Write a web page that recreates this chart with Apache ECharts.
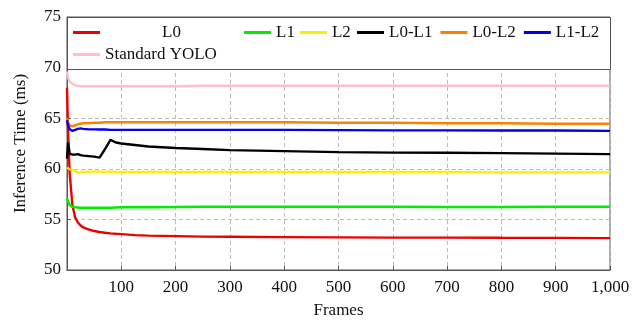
<!DOCTYPE html>
<html>
<head>
<meta charset="utf-8">
<script src="https://cdn.jsdelivr.net/npm/echarts@6/dist/echarts.min.js"></script>
<style>
  html, body { margin: 0; padding: 0; background: #fff; }
  #chart { width: 633px; height: 324px; }
</style>
</head>
<body>
<div id="chart"></div>
<script>
// frames sampled along the x axis
const frames = [0, 2, 5, 10, 15, 20, 25, 30, 40, 50, 60, 70, 80, 90, 100, 125, 150, 200, 250, 300, 400, 500, 600, 700, 800, 900, 1000];

// inference time (ms) per series
const l0 = [68, 63.5, 59.5, 56.4, 55.2, 54.7, 54.4, 54.2, 54.0, 53.85, 53.75, 53.68, 53.62, 53.58, 53.55, 53.45, 53.4, 53.35, 53.3, 53.28, 53.25, 53.22, 53.2, 53.2, 53.18, 53.17, 53.15];
const l1 = [57.1, 56.8, 56.4, 56.25, 56.2, 56.18, 56.15, 56.15, 56.15, 56.15, 56.15, 56.15, 56.15, 56.18, 56.2, 56.2, 56.2, 56.22, 56.25, 56.25, 56.25, 56.25, 56.25, 56.22, 56.22, 56.25, 56.25];
const l2 = [60.1, 60.0, 59.95, 59.9, 59.8, 59.6, 59.65, 59.7, 59.72, 59.72, 59.72, 59.7, 59.7, 59.7, 59.7, 59.7, 59.7, 59.7, 59.7, 59.7, 59.7, 59.7, 59.68, 59.68, 59.65, 59.65, 59.65];
const l0l1 = [61.0, 62.6, 61.5, 61.4, 61.4, 61.45, 61.35, 61.3, 61.25, 61.2, 61.1, 61.95, 62.85, 62.6, 62.5, 62.35, 62.2, 62.05, 61.95, 61.85, 61.75, 61.65, 61.6, 61.58, 61.55, 61.5, 61.45];
const l0l2 = [65.0, 64.6, 64.3, 64.2, 64.3, 64.4, 64.45, 64.5, 64.5, 64.55, 64.55, 64.6, 64.6, 64.6, 64.6, 64.6, 64.6, 64.6, 64.6, 64.6, 64.6, 64.55, 64.55, 64.5, 64.5, 64.45, 64.45];
const l1l2 = [64.8, 64.3, 63.9, 63.75, 63.85, 63.95, 64.0, 63.95, 63.9, 63.9, 63.88, 63.88, 63.85, 63.85, 63.85, 63.85, 63.85, 63.85, 63.85, 63.85, 63.85, 63.82, 63.8, 63.8, 63.78, 63.78, 63.75];
const yolo = [69.6, 69.0, 68.6, 68.4, 68.25, 68.2, 68.15, 68.15, 68.15, 68.15, 68.15, 68.15, 68.15, 68.15, 68.15, 68.15, 68.15, 68.15, 68.2, 68.2, 68.2, 68.2, 68.2, 68.2, 68.2, 68.2, 68.2];

const seriesNames = ['L0', 'L1', 'L2', 'L0-L1', 'L0-L2', 'L1-L2', 'Standard YOLO'];
const seriesValues = [l0, l1, l2, l0l1, l0l2, l1l2, yolo];
const seriesColors = ['#ee0000', '#00ee00', '#ffee00', '#000000', '#ff8000', '#0000ee', '#ffc0cb'];

const FONT = '"Liberation Serif", "Times New Roman", serif';
const txt = {fontFamily: FONT, fontSize: 17, color: '#111'};

const chart = echarts.init(document.getElementById('chart'), null, {renderer: 'canvas'});

// pgfplots-like legend: several ECharts legends laid out in the same box
function legendPart(names, left, top, gap, extra) {
    return Object.assign({
        data: names,
        left: left,
        top: top,
        padding: 0,
        itemGap: gap,
        itemWidth: 27,
        itemHeight: 3,
        icon: 'rect',
        z: 5,
        textStyle: txt
    }, extra || {});
}

const option = {
    animation: false,
    grid: {
        left: 67,
        right: 23,
        top: 17,
        bottom: 52,
        show: true,
        borderColor: '#555',
        borderWidth: 1
    },
    graphic: [{
        // legend frame
        type: 'rect',
        z: 4,
        left: 67,
        top: 17,
        shape: {width: 543, height: 52},
        style: {fill: '#fff', stroke: '#555', lineWidth: 1}
    }],
    legend: [
        // L0 text is centred in the wide first column
        legendPart(['L0'], 73, 24, 5, {
            formatter: '{wide|{name}}',
            textStyle: Object.assign({rich: {wide: Object.assign({width: 133, align: 'center'}, txt)}}, txt)
        }),
        legendPart(['L1', 'L2'], 244, 24, 5),
        legendPart(['L0-L1', 'L0-L2', 'L1-L2'], 357, 24, 8),
        legendPart(['Standard YOLO'], 73, 46, 5)
    ],
    xAxis: {
        type: 'value',
        min: 0,
        max: 1000,
        interval: 100,
        name: 'Frames',
        nameLocation: 'middle',
        nameGap: 32,
        nameTextStyle: txt,
        axisLine: {show: true, lineStyle: {color: '#555', width: 1}},
        axisTick: {show: true, inside: true, length: 4, lineStyle: {color: '#555'}},
        axisLabel: Object.assign({
            margin: 9,
            formatter: function (v) { return v === 0 ? '' : v.toLocaleString('en-US'); }
        }, txt),
        splitLine: {show: true, lineStyle: {color: '#bbb', type: [4, 3], width: 1}}
    },
    yAxis: {
        type: 'value',
        min: 50,
        max: 75,
        interval: 5,
        name: 'Inference Time (ms)',
        nameLocation: 'middle',
        nameGap: 38,
        nameTextStyle: txt,
        axisLine: {show: true, lineStyle: {color: '#555', width: 1}},
        axisTick: {show: true, inside: true, length: 4, lineStyle: {color: '#555'}},
        axisLabel: Object.assign({margin: 6}, txt),
        splitLine: {show: true, lineStyle: {color: '#bbb', type: [4, 3], width: 1}}
    },
    series: seriesNames.map(function (name, i) {
        return {
            name: name,
            type: 'line',
            data: frames.map(function (f, j) { return [f, seriesValues[i][j]]; }),
            showSymbol: false,
            symbol: 'none',
            color: seriesColors[i],
            lineStyle: {width: 2.4, color: seriesColors[i]},
            z: 2
        };
    })
};

chart.setOption(option);
</script>
</body>
</html>
